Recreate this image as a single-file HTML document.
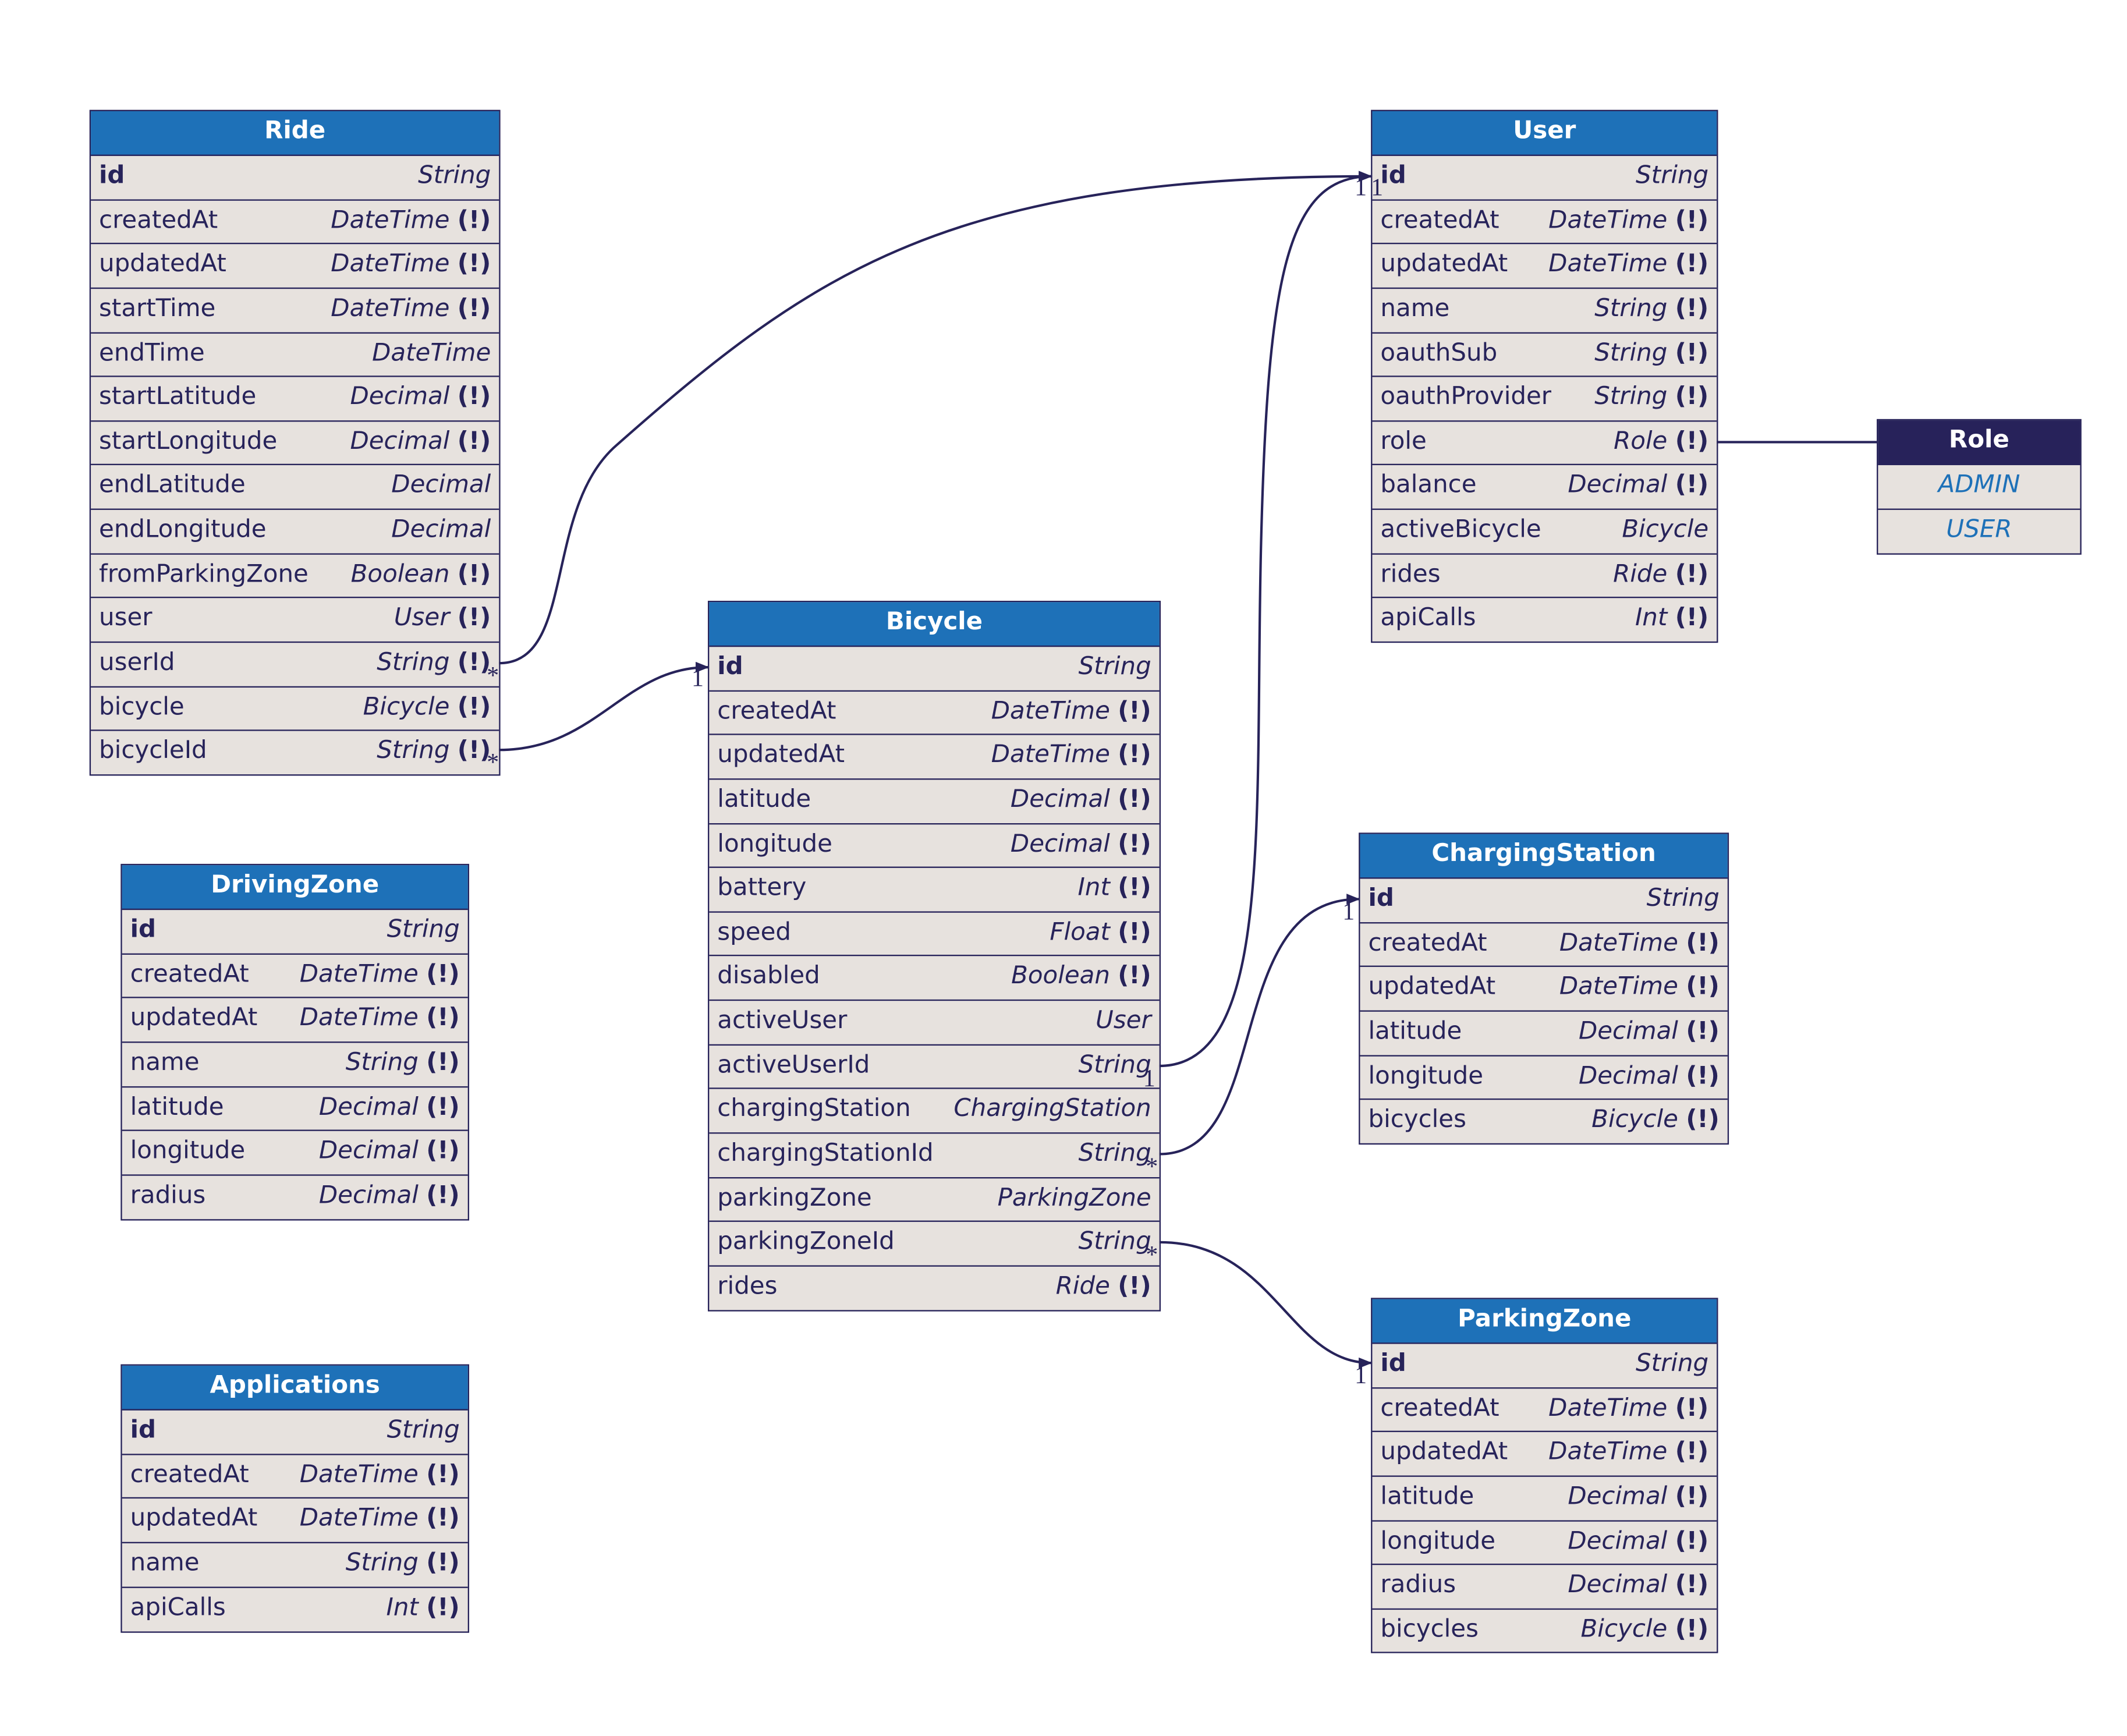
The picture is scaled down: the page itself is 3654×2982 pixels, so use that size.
<!DOCTYPE html>
<html><head><meta charset="utf-8">
<style>
html,body{margin:0;padding:0;background:#fff;}
body{width:3654px;height:2974px;overflow:hidden;position:relative;}
#root{position:absolute;left:0;top:0;width:1570px;height:1280px;transform:scale(2.3295);transform-origin:0 0;font-family:"DejaVu Sans","Liberation Sans",sans-serif;color:#27235a;}
.t{position:absolute;border:1.5px solid #27235a;background:#e7e2de;box-sizing:border-box;}
.h{height:33px;background:#1e71b8;color:#fff;font-weight:bold;font-size:18px;line-height:29px;text-align:center;border-bottom:1px solid #27235a;box-sizing:border-box;}
.h.e{background:#27225a;}
.r{height:32.65px;line-height:29px;font-size:18px;display:flex;justify-content:space-between;padding:0 6px;border-bottom:1px solid #27235a;box-sizing:border-box;white-space:nowrap;}
.r:last-child{border-bottom:none;}
.r i{font-style:italic;}
.r b{font-weight:bold;}
.en{justify-content:center;color:#1e71b8;font-style:italic;}
svg{position:absolute;left:0;top:0;z-index:5;}
</style></head><body><div id="root">

<div class="t" style="left:66px;top:81px;width:303px;height:491px">
<div class="h">Ride</div>
<div class="r"><b>id</b><i>String</i></div>
<div class="r"><span>createdAt</span><span><i>DateTime</i> <b>(!)</b></span></div>
<div class="r"><span>updatedAt</span><span><i>DateTime</i> <b>(!)</b></span></div>
<div class="r"><span>startTime</span><span><i>DateTime</i> <b>(!)</b></span></div>
<div class="r"><span>endTime</span><i>DateTime</i></div>
<div class="r"><span>startLatitude</span><span><i>Decimal</i> <b>(!)</b></span></div>
<div class="r"><span>startLongitude</span><span><i>Decimal</i> <b>(!)</b></span></div>
<div class="r"><span>endLatitude</span><i>Decimal</i></div>
<div class="r"><span>endLongitude</span><i>Decimal</i></div>
<div class="r"><span>fromParkingZone</span><span><i>Boolean</i> <b>(!)</b></span></div>
<div class="r"><span>user</span><span><i>User</i> <b>(!)</b></span></div>
<div class="r"><span>userId</span><span><i>String</i> <b>(!)</b></span></div>
<div class="r"><span>bicycle</span><span><i>Bicycle</i> <b>(!)</b></span></div>
<div class="r"><span>bicycleId</span><span><i>String</i> <b>(!)</b></span></div>
</div>

<div class="t" style="left:1011px;top:81px;width:256px;height:393px">
<div class="h">User</div>
<div class="r"><b>id</b><i>String</i></div>
<div class="r"><span>createdAt</span><span><i>DateTime</i> <b>(!)</b></span></div>
<div class="r"><span>updatedAt</span><span><i>DateTime</i> <b>(!)</b></span></div>
<div class="r"><span>name</span><span><i>String</i> <b>(!)</b></span></div>
<div class="r"><span>oauthSub</span><span><i>String</i> <b>(!)</b></span></div>
<div class="r"><span>oauthProvider</span><span><i>String</i> <b>(!)</b></span></div>
<div class="r"><span>role</span><span><i>Role</i> <b>(!)</b></span></div>
<div class="r"><span>balance</span><span><i>Decimal</i> <b>(!)</b></span></div>
<div class="r"><span>activeBicycle</span><i>Bicycle</i></div>
<div class="r"><span>rides</span><span><i>Ride</i> <b>(!)</b></span></div>
<div class="r"><span>apiCalls</span><span><i>Int</i> <b>(!)</b></span></div>
</div>

<div class="t" style="left:1384px;top:309px;width:151px;height:100px">
<div class="h e">Role</div>
<div class="r en">ADMIN</div>
<div class="r en">USER</div>
</div>

<div class="t" style="left:522px;top:443px;width:334px;height:524px">
<div class="h">Bicycle</div>
<div class="r"><b>id</b><i>String</i></div>
<div class="r"><span>createdAt</span><span><i>DateTime</i> <b>(!)</b></span></div>
<div class="r"><span>updatedAt</span><span><i>DateTime</i> <b>(!)</b></span></div>
<div class="r"><span>latitude</span><span><i>Decimal</i> <b>(!)</b></span></div>
<div class="r"><span>longitude</span><span><i>Decimal</i> <b>(!)</b></span></div>
<div class="r"><span>battery</span><span><i>Int</i> <b>(!)</b></span></div>
<div class="r"><span>speed</span><span><i>Float</i> <b>(!)</b></span></div>
<div class="r"><span>disabled</span><span><i>Boolean</i> <b>(!)</b></span></div>
<div class="r"><span>activeUser</span><i>User</i></div>
<div class="r"><span>activeUserId</span><i>String</i></div>
<div class="r"><span>chargingStation</span><i>ChargingStation</i></div>
<div class="r"><span>chargingStationId</span><i>String</i></div>
<div class="r"><span>parkingZone</span><i>ParkingZone</i></div>
<div class="r"><span>parkingZoneId</span><i>String</i></div>
<div class="r"><span>rides</span><span><i>Ride</i> <b>(!)</b></span></div>
</div>

<div class="t" style="left:89px;top:637px;width:257px;height:263px">
<div class="h">DrivingZone</div>
<div class="r"><b>id</b><i>String</i></div>
<div class="r"><span>createdAt</span><span><i>DateTime</i> <b>(!)</b></span></div>
<div class="r"><span>updatedAt</span><span><i>DateTime</i> <b>(!)</b></span></div>
<div class="r"><span>name</span><span><i>String</i> <b>(!)</b></span></div>
<div class="r"><span>latitude</span><span><i>Decimal</i> <b>(!)</b></span></div>
<div class="r"><span>longitude</span><span><i>Decimal</i> <b>(!)</b></span></div>
<div class="r"><span>radius</span><span><i>Decimal</i> <b>(!)</b></span></div>
</div>

<div class="t" style="left:89px;top:1006px;width:257px;height:198px">
<div class="h">Applications</div>
<div class="r"><b>id</b><i>String</i></div>
<div class="r"><span>createdAt</span><span><i>DateTime</i> <b>(!)</b></span></div>
<div class="r"><span>updatedAt</span><span><i>DateTime</i> <b>(!)</b></span></div>
<div class="r"><span>name</span><span><i>String</i> <b>(!)</b></span></div>
<div class="r"><span>apiCalls</span><span><i>Int</i> <b>(!)</b></span></div>
</div>

<div class="t" style="left:1002px;top:614px;width:273px;height:230px">
<div class="h">ChargingStation</div>
<div class="r"><b>id</b><i>String</i></div>
<div class="r"><span>createdAt</span><span><i>DateTime</i> <b>(!)</b></span></div>
<div class="r"><span>updatedAt</span><span><i>DateTime</i> <b>(!)</b></span></div>
<div class="r"><span>latitude</span><span><i>Decimal</i> <b>(!)</b></span></div>
<div class="r"><span>longitude</span><span><i>Decimal</i> <b>(!)</b></span></div>
<div class="r"><span>bicycles</span><span><i>Bicycle</i> <b>(!)</b></span></div>
</div>

<div class="t" style="left:1011px;top:957px;width:256px;height:262px">
<div class="h">ParkingZone</div>
<div class="r"><b>id</b><i>String</i></div>
<div class="r"><span>createdAt</span><span><i>DateTime</i> <b>(!)</b></span></div>
<div class="r"><span>updatedAt</span><span><i>DateTime</i> <b>(!)</b></span></div>
<div class="r"><span>latitude</span><span><i>Decimal</i> <b>(!)</b></span></div>
<div class="r"><span>longitude</span><span><i>Decimal</i> <b>(!)</b></span></div>
<div class="r"><span>radius</span><span><i>Decimal</i> <b>(!)</b></span></div>
<div class="r"><span>bicycles</span><span><i>Bicycle</i> <b>(!)</b></span></div>
</div>

<svg width="1570" height="1280" viewBox="0 0 1570 1280">
<defs><marker id="a" markerWidth="10" markerHeight="8" refX="9" refY="4" orient="auto" markerUnits="userSpaceOnUse"><path d="M0,0 L10,4 L0,8 z" fill="#27235a"/></marker></defs>
<g fill="none" stroke="#27235a" stroke-width="1.8">
<path d="M368,489 C425,489 400,375 455,328 C600,200 700,130 1011,130" marker-end="url(#a)"/>
<path d="M368,553 C440,553 460,492 522,492" marker-end="url(#a)"/>
<path d="M855,786 C940,786 925,600 930,400 C935,200 950,130 1011,130" marker-end="url(#a)"/>
<path d="M855,851 C940,851 900,663 1002,663" marker-end="url(#a)"/>
<path d="M855,916 C940,916 950,1005 1011,1005" marker-end="url(#a)"/>
<path d="M1266,326 L1384,326"/>
</g>
<g font-family="Liberation Serif,serif" font-size="18" fill="#27235a">
<text x="359" y="504">*</text><text x="999" y="144">1</text><text x="1011" y="144">1</text>
<text x="359" y="568">*</text><text x="510" y="506">1</text>
<text x="843" y="801">1</text>
<text x="845" y="866">*</text><text x="990" y="678">1</text>
<text x="845" y="931">*</text><text x="999" y="1020">1</text>
</g>
</svg>

</div></body></html>
